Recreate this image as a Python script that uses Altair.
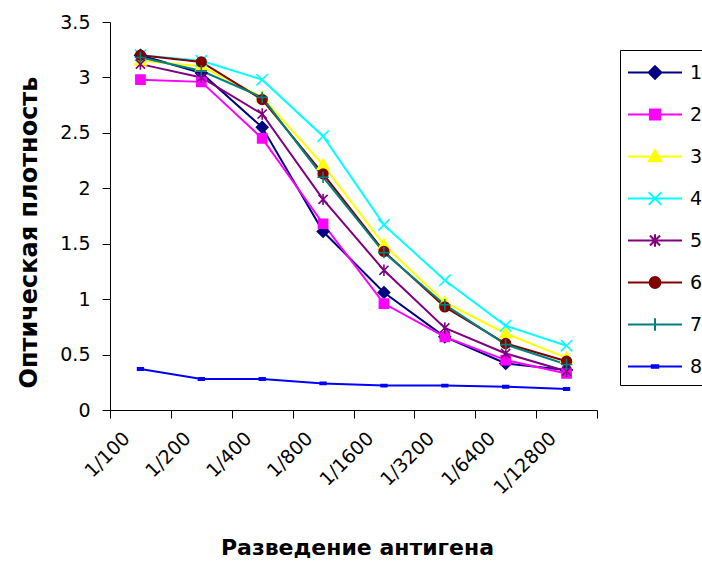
import altair as alt
import pandas as pd

# ---- data ----
dilutions = ["1/100", "1/200", "1/400", "1/800", "1/1600", "1/3200", "1/6400", "1/12800"]
series_names = ["1", "2", "3", "4", "5", "6", "7", "8"]
s1 = [3.20, 3.04, 2.55, 1.61, 1.06, 0.66, 0.42, 0.36]
s2 = [2.98, 2.96, 2.45, 1.68, 0.96, 0.66, 0.45, 0.33]
s3 = [3.15, 3.10, 2.82, 2.21, 1.49, 0.97, 0.69, 0.47]
s4 = [3.20, 3.15, 2.98, 2.47, 1.67, 1.17, 0.76, 0.58]
s5 = [3.12, 3.00, 2.67, 1.90, 1.26, 0.74, 0.51, 0.35]
s6 = [3.20, 3.14, 2.80, 2.13, 1.43, 0.93, 0.60, 0.44]
s7 = [3.18, 3.06, 2.82, 2.10, 1.42, 0.95, 0.59, 0.41]
s8 = [0.37, 0.28, 0.28, 0.24, 0.22, 0.22, 0.21, 0.19]
all_series = [s1, s2, s3, s4, s5, s6, s7, s8]

y_ticks = [0, 0.5, 1, 1.5, 2, 2.5, 3, 3.5]
x_title = "Разведение антигена"
y_title = "Оптическая плотность"

rows = []
for name, vals in zip(series_names, all_series):
    for d, v in zip(dilutions, vals):
        rows.append({"dilution": d, "series": name, "value": v})
df = pd.DataFrame(rows)

# ---- styles ----
FONT = "DejaVu Sans"
colors = ["#000080", "#FF00FF", "#FFFF00", "#00FFFF", "#800080", "#800000", "#008080", "#0000FF"]


def f(v):
    return ("%.3f" % v).rstrip("0").rstrip(".")


def diamond(s):
    return f"M0,{f(-s)}L{f(s)},0L0,{f(s)}L{f(-s)},0Z"


def square(s):
    k = 0.8 * s
    return f"M{f(-k)},{f(-k)}H{f(k)}V{f(k)}H{f(-k)}Z"


def triangle(s):
    return f"M0,{f(-s)}L{f(s)},{f(0.75 * s)}L{f(-s)},{f(0.75 * s)}Z"


def xmark(s):
    return f"M{f(-s)},{f(-s)}L{f(s)},{f(s)}M{f(-s)},{f(s)}L{f(s)},{f(-s)}"


def asterisk(s):
    k = 0.8 * s
    return f"M{f(-k)},{f(-k)}L{f(k)},{f(k)}M{f(-k)},{f(k)}L{f(k)},{f(-k)}M0,{f(-s)}V{f(s)}"


def circle(s):
    k = 0.85 * s
    return f"M{f(-k)},0A{f(k)},{f(k)} 0 1,0 {f(k)},0A{f(k)},{f(k)} 0 1,0 {f(-k)},0Z"


def plus(s):
    return f"M{f(-s)},0H{f(s)}M0,{f(-s)}V{f(s)}"


def dash(s):
    return f"M{f(-0.5 * s)},{f(-0.2 * s)}H{f(0.5 * s)}V{f(0.2 * s)}H{f(-0.5 * s)}Z"


marker_fns = [diamond, square, triangle, xmark, asterisk, circle, plus, dash]
plot_shapes = [m(0.95) for m in marker_fns]
legend_shapes = ["M-2,0H2" + m(0.47) for m in marker_fns]

x_enc = alt.X(
    "dilution:N",
    sort=dilutions,
    scale=alt.Scale(type="band", domain=dilutions, paddingInner=0, paddingOuter=0),
    axis=alt.Axis(
        title=x_title,
        labelAngle=315,
        labelAlign="right",
        labelBaseline="middle",
        labelFont=FONT,
        labelFontSize=19,
        labelColor="black",
        labelPadding=17,
        labelOffset=-14,
        tickBand="extent",
        tickSize=8,
        tickColor="black",
        domainColor="black",
        titleFont=FONT,
        titleFontSize=22,
        titleFontWeight="bold",
        titleColor="black",
        titleX=247,
        titleY=137,
        titleAlign="center",
        titleBaseline="middle",
        grid=False,
    ),
)
y_enc = alt.Y(
    "value:Q",
    scale=alt.Scale(domain=[0, 3.5], nice=False, zero=True),
    axis=alt.Axis(
        title=y_title,
        values=y_ticks,
        format="~g",
        labelFont=FONT,
        labelFontSize=19,
        labelColor="black",
        labelPadding=12,
        tickSize=8,
        tickColor="black",
        domainColor="black",
        titleFont=FONT,
        titleFontSize=24,
        titleFontWeight="bold",
        titleColor="black",
        titleX=-81,
        titleY=210,
        titleAlign="center",
        titleBaseline="middle",
        grid=False,
    ),
)

cscale = alt.Scale(domain=series_names, range=colors)

lines = alt.Chart(df).mark_line(strokeWidth=2).encode(
    x=x_enc,
    y=y_enc,
    color=alt.Color("series:N", scale=cscale, legend=None),
    detail="series:N",
)

points = alt.Chart(df).mark_point(filled=True, opacity=1, strokeWidth=1.6, size=144).encode(
    x=x_enc,
    y=y_enc,
    color=alt.Color("series:N", scale=cscale, legend=None),
    stroke=alt.Stroke("series:N", scale=cscale, legend=None),
    shape=alt.Shape("series:N", scale=alt.Scale(domain=series_names, range=plot_shapes), legend=None),
)

leg = alt.Legend(
    title=None,
    orient="none",
    legendX=510,
    legendY=28,
    padding=8,
    rowPadding=17,
    symbolSize=729,
    symbolStrokeWidth=2,
    symbolOffset=12.5,
    symbolOpacity=1,
    labelOffset=20.5,
    labelFont=FONT,
    labelFontSize=19,
    labelColor="black",
    strokeColor="#000000",
    fillColor="white",
)

legend_layer = alt.Chart(df).mark_point(filled=True, opacity=0, strokeWidth=2).encode(
    x=x_enc,
    y=y_enc,
    color=alt.Color("series:N", scale=cscale, legend=leg),
    stroke=alt.Stroke("series:N", scale=cscale, legend=leg),
    shape=alt.Shape("series:N", scale=alt.Scale(domain=series_names, range=legend_shapes), legend=leg),
)

chart = (
    alt.layer(lines, points, legend_layer)
    .resolve_scale(color="independent", stroke="independent", shape="independent")
    .properties(
        width=487,
        height=388,
        autosize=alt.AutoSizeParams(type="none"),
        padding={"left": 110, "top": 22, "right": 105, "bottom": 152},
        background="white",
    )
    .configure_view(stroke=None)
)

chart.save("out.html", embed_options={"renderer": "svg", "actions": False})
